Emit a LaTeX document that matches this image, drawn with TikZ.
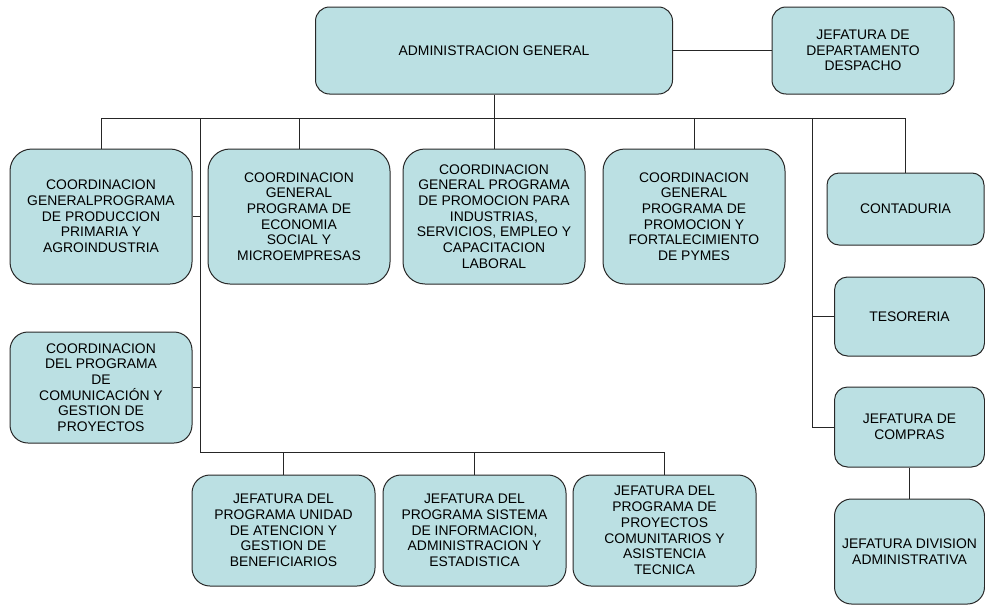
\documentclass[tikz,border=0pt]{standalone}
\usepackage{fontspec}
\setmainfont{Liberation Sans}
\usepackage{xcolor}
\usepackage{tikz}
\definecolor{unitfill}{RGB}{187, 224, 227}
\definecolor{unitline}{RGB}{40, 40, 40}

\begin{document}
\begin{tikzpicture}[
  x=1pt, y=-1pt,
  every node/.style={font=\fontsize{13.9}{15.7}\selectfont},
  unit/.style={draw=unitline, fill=unitfill, line width=1pt, align=center, inner sep=0pt, minimum width=182pt, minimum height=135pt, rounded corners=22pt},
  small/.style={unit, minimum width=150pt, minimum height=80pt, rounded corners=13pt},
  link/.style={line width=0.9pt, color=black!85}
]
  \useasboundingbox (0,0) rectangle (985,608);

  % top level
  \node[unit, minimum width=357pt, minimum height=87pt, rounded corners=14pt] (admin) at (494, 50.5) {ADMINISTRACION GENERAL};
  \node[unit, minimum height=87pt, rounded corners=14pt] (despacho) at (863, 50.5) {JEFATURA DE\\DEPARTAMENTO\\DESPACHO};

  % coordinaciones
  \node[unit] (progprod) at (101, 216.5) {COORDINACION\\GENERALPROGRAMA\\DE PRODUCCION\\PRIMARIA Y\\AGROINDUSTRIA};
  \node[unit] (progeco) at (299, 216.5) {COORDINACION\\GENERAL\\PROGRAMA DE\\ECONOMIA\\SOCIAL Y\\MICROEMPRESAS};
  \node[unit] (progind) at (494, 216.5) {COORDINACION\\GENERAL PROGRAMA\\DE PROMOCION PARA\\INDUSTRIAS,\\SERVICIOS, EMPLEO Y\\CAPACITACION\\LABORAL};
  \node[unit] (progpymes) at (694, 216.5) {COORDINACION\\GENERAL\\PROGRAMA DE\\PROMOCION Y\\FORTALECIMIENTO\\DE PYMES};
  \node[unit, minimum height=111pt, rounded corners=18pt] (progcom) at (101, 387.5) {COORDINACION\\DEL PROGRAMA\\DE\\COMUNICACIÓN Y\\GESTION DE\\PROYECTOS};

  % jefaturas de programa
  \node[unit, minimum width=183pt, minimum height=111pt, rounded corners=18pt] (jefben) at (283.5, 530.5) {JEFATURA DEL\\PROGRAMA UNIDAD\\DE ATENCION Y\\GESTION DE\\BENEFICIARIOS};
  \node[unit, minimum width=183pt, minimum height=111pt, rounded corners=18pt] (jefsis) at (474.5, 530.5) {JEFATURA DEL\\PROGRAMA SISTEMA\\DE INFORMACION,\\ADMINISTRACION Y\\ESTADISTICA};
  \node[unit, minimum width=183pt, minimum height=111pt, rounded corners=18pt] (jefcom) at (664.5, 530.5) {JEFATURA DEL\\PROGRAMA DE\\PROYECTOS\\COMUNITARIOS Y\\ASISTENCIA\\TECNICA};

  % area administrativa
  \node[small, minimum width=157pt, minimum height=72pt, rounded corners=12pt] (conta) at (905.5, 209) {CONTADURIA};
  \node[small, minimum height=79pt] (teso) at (909.5, 316.5) {TESORERIA};
  \node[small] (compras) at (909.5, 427) {JEFATURA DE\\COMPRAS};
  \node[small, minimum height=105pt, rounded corners=17pt] (division) at (909.5, 551.5) {JEFATURA DIVISION\\ADMINISTRATIVA};

  \coordinate (bus) at (0, 118);
  \coordinate (ltrunk) at (200, 118);
  \coordinate (lowbus) at (200, 452);
  \coordinate (rtrunk) at (812, 118);

  \draw[link] (admin.east) -- (despacho.west);
  \draw[link] (admin.south) -- (admin.south |- bus);
  \draw[link] (progprod.north) -- (progprod.north |- bus) -- (conta.north |- bus) -- (conta.north);
  \draw[link] (progeco.north) -- (progeco.north |- bus);
  \draw[link] (progind.north) -- (progind.north |- bus);
  \draw[link] (progpymes.north) -- (progpymes.north |- bus);

  \draw[link] (ltrunk) -- (lowbus) -- (lowbus -| jefcom.north) -- (jefcom.north);
  \draw[link] (progprod.east) -- (progprod.east -| ltrunk);
  \draw[link] (progcom.east) -- (progcom.east -| ltrunk);
  \draw[link] (jefben.north) -- (jefben.north |- lowbus);
  \draw[link] (jefsis.north) -- (jefsis.north |- lowbus);

  \draw[link] (rtrunk) |- (compras.west);
  \draw[link] (teso.west) -- (teso.west -| rtrunk);
  \draw[link] (compras.south) -- (division.north);

\end{tikzpicture}
\end{document}
